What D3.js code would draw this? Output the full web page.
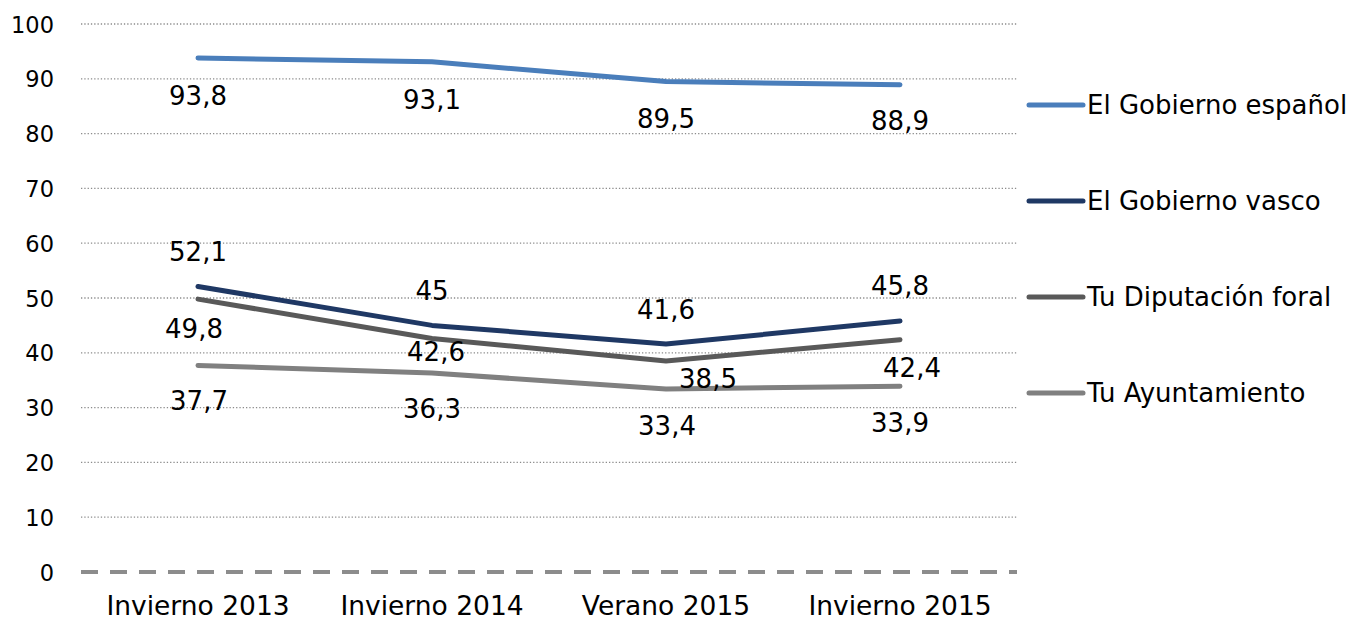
<!DOCTYPE html>
<html>
<head>
<meta charset="utf-8">
<script src="https://cdn.jsdelivr.net/npm/d3@7"></script>
<style>
  body { margin: 0; background: #fff; }
  text { font-family: "DejaVu Sans", sans-serif; fill: #000; }
</style>
</head>
<body>
<svg id="chart"></svg>
<script>
// Full size of the svg element.
const WIDTH = 1353;
const HEIGHT = 626;

// Plot area.
const PLOT_LEFT = 81;
const PLOT_RIGHT = 1017;
const PLOT_TOP = 24;
const PLOT_BOTTOM = 572;

// Data.
const categories = ['Invierno 2013', 'Invierno 2014', 'Verano 2015', 'Invierno 2015'];
const seriesNames = ['El Gobierno español', 'El Gobierno vasco', 'Tu Diputación foral', 'Tu Ayuntamiento'];
const espanol = [93.8, 93.1, 89.5, 88.9];
const vasco = [52.1, 45, 41.6, 45.8];
const diputacion = [49.8, 42.6, 38.5, 42.4];
const ayuntamiento = [37.7, 36.3, 33.4, 33.9];
const yTicks = [0, 10, 20, 30, 40, 50, 60, 70, 80, 90, 100];

const seriesValues = [espanol, vasco, diputacion, ayuntamiento];
const colors = ['#4a7ebb', '#1f3864', '#595959', '#808080'];

// Where each value label sits relative to its point (dx, baseline dy).
const labelOffsets = [
  [[0, 47], [0, 47], [0, 46], [0, 45]],
  [[0, -25], [0, -25], [0, -25], [0, -26]],
  [[-4, 39], [4, 22], [42, 27], [12, 37]],
  [[1, 45], [0, 45], [1, 46], [0, 46]]
];

const svg = d3.select('#chart').attr('width', WIDTH).attr('height', HEIGHT);

const xScale = d3.scaleBand().domain(categories).range([PLOT_LEFT, PLOT_RIGHT]).padding(0);
const xPos = c => xScale(c) + xScale.bandwidth() / 2;
const yScale = d3.scaleLinear().domain([0, 100]).range([PLOT_BOTTOM, PLOT_TOP]);

// Dotted gridlines (not at zero).
svg.append('g')
  .selectAll('line')
  .data(yTicks.filter(t => t > 0))
  .join('line')
  .attr('x1', PLOT_LEFT)
  .attr('x2', PLOT_RIGHT)
  .attr('y1', d => yScale(d))
  .attr('y2', d => yScale(d))
  .attr('stroke', '#8c8c8c')
  .attr('stroke-width', 1.3)
  .attr('stroke-dasharray', '1.3,2');

// Dashed zero line.
svg.append('line')
  .attr('x1', PLOT_LEFT)
  .attr('x2', PLOT_RIGHT)
  .attr('y1', yScale(0))
  .attr('y2', yScale(0))
  .attr('stroke', '#8c8c8c')
  .attr('stroke-width', 4)
  .attr('stroke-dasharray', '17,12');

// Y axis labels.
const yAxis = d3.axisLeft(yScale).tickValues(yTicks).tickSize(0).tickPadding(0);
const yAxisGroup = svg.append('g').attr('transform', 'translate(54,0)').call(yAxis);
yAxisGroup.select('.domain').remove();
yAxisGroup.selectAll('text')
  .attr('font-size', 22.5)
  .attr('font-family', '"DejaVu Sans", sans-serif')
  .attr('fill', '#000')
  .attr('dy', '0.36em');

// X axis labels.
const xAxis = d3.axisBottom(xScale).tickSize(0).tickPadding(0);
const xAxisGroup = svg.append('g').attr('transform', 'translate(0,596)').call(xAxis);
xAxisGroup.select('.domain').remove();
xAxisGroup.selectAll('text')
  .attr('font-size', 26.5)
  .attr('font-family', '"DejaVu Sans", sans-serif')
  .attr('fill', '#000')
  .attr('dy', '0.72em');

// Series lines.
const line = d3.line()
  .x((d, i) => xPos(categories[i]))
  .y(d => yScale(d));

svg.append('g')
  .selectAll('path')
  .data(seriesValues)
  .join('path')
  .attr('d', d => line(d))
  .attr('fill', 'none')
  .attr('stroke', (d, i) => colors[i])
  .attr('stroke-width', 5)
  .attr('stroke-linecap', 'round')
  .attr('stroke-linejoin', 'round');

// Value labels.
const fmt = v => String(v).replace('.', ',');
seriesValues.forEach((values, s) => {
  svg.append('g')
    .selectAll('text')
    .data(values)
    .join('text')
    .attr('x', (d, i) => xPos(categories[i]) + labelOffsets[s][i][0])
    .attr('y', (d, i) => yScale(d) + labelOffsets[s][i][1])
    .attr('text-anchor', 'middle')
    .attr('font-size', 26)
    .text(fmt);
});

// Legend.
const legend = svg.append('g')
  .selectAll('g')
  .data(seriesNames)
  .join('g')
  .attr('transform', (d, i) => `translate(1029, ${105 + i * 96})`);

legend.append('line')
  .attr('x1', 0)
  .attr('x2', 54)
  .attr('stroke', (d, i) => colors[i])
  .attr('stroke-width', 5)
  .attr('stroke-linecap', 'round');

legend.append('text')
  .attr('x', 58)
  .attr('dy', '0.36em')
  .attr('font-size', 26)
  .text(d => d);
</script>
</body>
</html>
